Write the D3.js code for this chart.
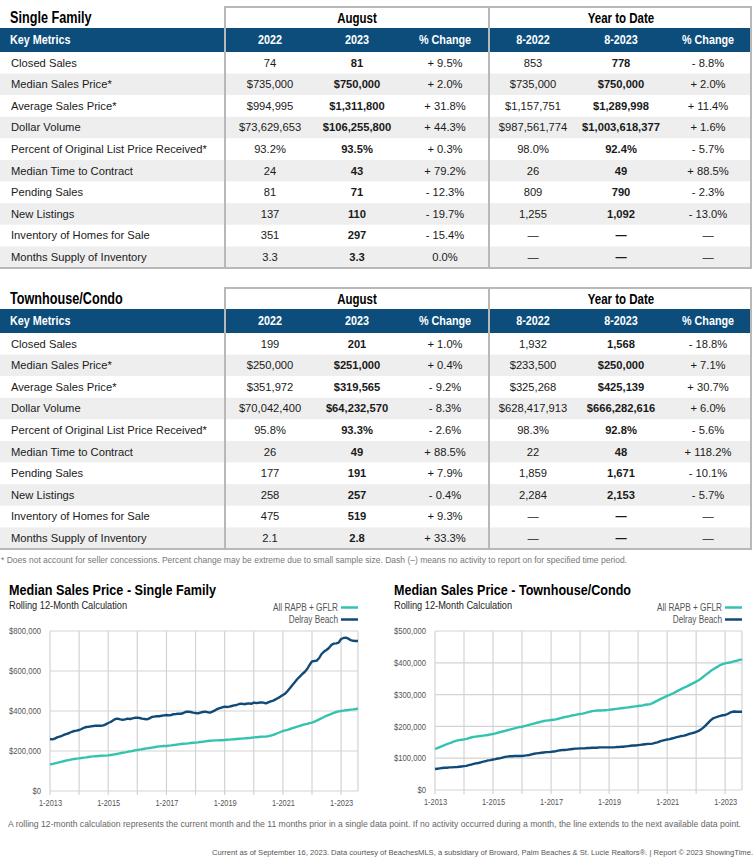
<!DOCTYPE html>
<html>
<head>
<meta charset="utf-8">
<script src="https://cdn.jsdelivr.net/npm/d3@7"></script>
<style>
  body { margin: 0; background: #fff; }
  svg text { font-family: Arial, "Liberation Sans", sans-serif; }
</style>
</head>
<body>
<svg id="page" width="756" height="863"></svg>
<script>
// 表格数据
const metrics = ["Closed Sales", "Median Sales Price*", "Average Sales Price*", "Dollar Volume",
  "Percent of Original List Price Received*", "Median Time to Contract", "Pending Sales",
  "New Listings", "Inventory of Homes for Sale", "Months Supply of Inventory"];
const colHeads = ["2022", "2023", "% Change", "8-2022", "8-2023", "% Change"];
const groupHeads = ["August", "Year to Date"];

const sfAug22 = ["74", "$735,000", "$994,995", "$73,629,653", "93.2%", "24", "81", "137", "351", "3.3"];
const sfAug23 = ["81", "$750,000", "$1,311,800", "$106,255,800", "93.5%", "43", "71", "110", "297", "3.3"];
const sfAugPct = ["+ 9.5%", "+ 2.0%", "+ 31.8%", "+ 44.3%", "+ 0.3%", "+ 79.2%", "- 12.3%", "- 19.7%", "- 15.4%", "0.0%"];
const sfYtd22 = ["853", "$735,000", "$1,157,751", "$987,561,774", "98.0%", "26", "809", "1,255", "—", "—"];
const sfYtd23 = ["778", "$750,000", "$1,289,998", "$1,003,618,377", "92.4%", "49", "790", "1,092", "—", "—"];
const sfYtdPct = ["- 8.8%", "+ 2.0%", "+ 11.4%", "+ 1.6%", "- 5.7%", "+ 88.5%", "- 2.3%", "- 13.0%", "—", "—"];

const thAug22 = ["199", "$250,000", "$351,972", "$70,042,400", "95.8%", "26", "177", "258", "475", "2.1"];
const thAug23 = ["201", "$251,000", "$319,565", "$64,232,570", "93.3%", "49", "191", "257", "519", "2.8"];
const thAugPct = ["+ 1.0%", "+ 0.4%", "- 9.2%", "- 8.3%", "- 2.6%", "+ 88.5%", "+ 7.9%", "- 0.4%", "+ 9.3%", "+ 33.3%"];
const thYtd22 = ["1,932", "$233,500", "$325,268", "$628,417,913", "98.3%", "22", "1,859", "2,284", "—", "—"];
const thYtd23 = ["1,568", "$250,000", "$425,139", "$666,282,616", "92.8%", "48", "1,671", "2,153", "—", "—"];
const thYtdPct = ["- 18.8%", "+ 7.1%", "+ 30.7%", "+ 6.0%", "- 5.6%", "+ 118.2%", "- 10.1%", "- 5.7%", "—", "—"];

// 折线数据: 2013-01 .. 2023-08, 单位千美元
const startMonth = new Date(2013, 0, 1);
const sfDelray = [
  260, 258, 262, 268, 272, 276, 282, 286, 290, 296, 300, 302,
  305, 310, 316, 320, 321, 323, 325, 327, 326, 326, 328, 333,
  340, 345, 352, 360, 362, 358, 356, 358, 362, 360, 363, 366,
  367, 365, 362, 360, 358, 363, 370, 372, 374, 374, 376, 378,
  380, 378, 380, 384, 385, 387, 386, 390, 396, 397, 395, 392,
  390, 388, 392, 395, 397, 394, 392, 397, 403, 410, 414, 418,
  422, 420, 422, 425, 428, 430, 435, 437, 434, 436, 438, 436,
  442, 440, 441, 443, 442, 438, 443, 448, 452, 458, 465, 472,
  480, 488, 500, 515, 530, 545, 560, 572, 585, 595, 610, 630,
  648, 650, 652, 665, 685, 697, 705, 715, 730, 737, 738, 742,
  760, 765, 767, 762, 754, 751, 750, 750];
const sfAll = [
  133, 135, 138, 141, 144, 147, 150, 153, 155, 158, 160, 162,
  163, 165, 167, 168, 170, 172, 173, 174, 175, 176, 177, 177,
  178, 180, 182, 184, 186, 189, 191, 193, 196, 198, 200, 203,
  205, 207, 209, 211, 213, 215, 217, 219, 221, 223, 224, 225,
  225, 227, 228, 230, 231, 233, 235, 236, 237, 238, 240, 241,
  242, 243, 245, 246, 248, 250, 251, 252, 253, 253, 254, 254,
  255, 256, 257, 258, 259, 260, 261, 262, 263, 264, 265, 266,
  268, 269, 270, 271, 272, 272, 274, 277, 281, 285, 290, 295,
  300, 303, 306, 310, 314, 318, 322, 326, 330, 333, 336, 339,
  342, 347, 352, 358, 364, 370, 376, 381, 386, 391, 395, 398,
  400, 402, 404, 405, 407, 408, 410, 412];
const thAll = [
  129, 132, 135, 138, 141, 144, 147, 150, 153, 155, 157, 158,
  159, 161, 163, 165, 167, 168, 169, 170, 171, 172, 173, 175,
  176, 178, 180, 182, 184, 186, 188, 190, 192, 194, 196, 198,
  199, 201, 203, 205, 207, 209, 211, 213, 215, 217, 218, 219,
  220, 221, 222, 224, 226, 228, 230, 231, 233, 235, 236, 238,
  239, 240, 242, 244, 246, 248, 249, 250, 250, 250, 251, 251,
  252, 253, 254, 255, 256, 257, 258, 259, 260, 261, 262, 263,
  264, 265, 266, 268, 269, 270, 273, 277, 281, 285, 289, 292,
  296, 299, 302, 306, 310, 314, 318, 322, 325, 329, 333, 337,
  341, 345, 350, 356, 362, 368, 374, 379, 384, 388, 393, 396,
  398, 400, 401, 403, 405, 407, 409, 411];
const thDelray = [
  66, 67, 68, 69, 70, 70, 71, 71, 72, 72, 73, 74,
  75, 76, 78, 80, 82, 84, 85, 87, 89, 91, 93, 94,
  96, 97, 99, 100, 102, 104, 105, 106, 106, 107, 107, 107,
  107, 108, 109, 110, 112, 114, 115, 116, 117, 118, 119, 119,
  120, 121, 122, 124, 125, 126, 126, 127, 128, 129, 130, 130,
  131, 131, 131, 132, 132, 133, 133, 133, 134, 134, 134, 134,
  134, 134, 134, 135, 135, 136, 136, 137, 138, 139, 140, 140,
  141, 142, 143, 144, 145, 145, 146, 148, 150, 153, 155, 157,
  159, 160, 162, 164, 166, 168, 170, 171, 173, 176, 178, 180,
  183, 186, 190, 196, 203, 211, 219, 225, 228, 231, 233, 235,
  236, 239, 243, 246, 247, 246, 246, 246];
const sfTicks = [0, 200000, 400000, 600000, 800000];
const thTicks = [0, 100000, 200000, 300000, 400000, 500000];
const legendNames = ["All RAPB + GFLR", "Delray Beach"];

// 颜色
const blue = "#0c4d7b";
const teal = "#35c3b1";
const navy = "#0f4a78";
const borderGray = "#b8b8b8";

const svg = d3.select("#page");

// 没有窄体字体, 用 textLength 压扁文字
function condense(sel, k) {
  sel.each(function () {
    const w = this.getComputedTextLength();
    d3.select(this).attr("textLength", w * k).attr("lengthAdjust", "spacingAndGlyphs");
  });
}

function drawTable(top, title, cols) {
  const g = svg.append("g");
  const rowY = d3.scaleBand().domain(metrics).range([top + 45, top + 261]);
  const centers = [270, 357, 445, 533, 621, 708];

  g.selectAll("rect.row")
    .data(metrics)
    .join("rect")
    .attr("class", "row")
    .attr("x", 0)
    .attr("width", 752)
    .attr("y", (d) => rowY(d))
    .attr("height", rowY.bandwidth())
    .attr("fill", (d, i) => (i % 2 ? "#eeeeee" : "#ffffff"));

  g.append("rect")
    .attr("x", 0)
    .attr("y", top + 21)
    .attr("width", 752)
    .attr("height", 24)
    .attr("fill", blue);

  g.append("text")
    .attr("x", 10)
    .attr("y", top + 16)
    .attr("font-size", 16)
    .attr("font-weight", "bold")
    .text(title)
    .call(condense, 0.79);

  g.selectAll("text.grp")
    .data(groupHeads)
    .join("text")
    .attr("class", "grp")
    .attr("x", (d, i) => (i ? 621 : 357))
    .attr("y", top + 16)
    .attr("text-anchor", "middle")
    .attr("font-size", 14)
    .attr("font-weight", "bold")
    .text((d) => d)
    .call(condense, 0.82);

  g.append("text")
    .attr("x", 10)
    .attr("y", top + 37)
    .attr("font-size", 13)
    .attr("font-weight", "bold")
    .attr("fill", "#fff")
    .text("Key Metrics")
    .call(condense, 0.83);

  g.selectAll("text.ch")
    .data(colHeads)
    .join("text")
    .attr("class", "ch")
    .attr("x", (d, i) => centers[i])
    .attr("y", top + 37)
    .attr("text-anchor", "middle")
    .attr("font-size", 13)
    .attr("font-weight", "bold")
    .attr("fill", "#fff")
    .text((d) => d)
    .call(condense, 0.83);

  g.selectAll("text.metric")
    .data(metrics)
    .join("text")
    .attr("class", "metric")
    .attr("x", 11)
    .attr("y", (d) => rowY(d) + 14.5)
    .attr("font-size", 11.2)
    .attr("fill", "#1a1a1a")
    .text((d) => d);

  cols.forEach((col, ci) => {
    g.selectAll("text.c" + ci)
      .data(col)
      .join("text")
      .attr("class", "c" + ci)
      .attr("x", centers[ci])
      .attr("y", (d, i) => rowY(metrics[i]) + 14.5)
      .attr("text-anchor", "middle")
      .attr("font-size", 11.2)
      .attr("font-weight", ci === 1 || ci === 4 ? "bold" : "normal")
      .attr("fill", "#1a1a1a")
      .text((d) => d);
  });

  const bottom = top + 261;
  g.append("path")
    .attr("d", `M225,${bottom}V${top}H751V${bottom}M489,${top}V${bottom}`)
    .attr("fill", "none")
    .attr("stroke", borderGray)
    .attr("stroke-width", 2);
  g.append("line")
    .attr("x1", 0)
    .attr("x2", 752)
    .attr("y1", bottom)
    .attr("y2", bottom)
    .attr("stroke", borderGray)
    .attr("stroke-width", 2);
}

drawTable(7, "Single Family", [sfAug22, sfAug23, sfAugPct, sfYtd22, sfYtd23, sfYtdPct]);
drawTable(288, "Townhouse/Condo", [thAug22, thAug23, thAugPct, thYtd22, thYtd23, thYtdPct]);

svg.append("text")
  .attr("x", 1)
  .attr("y", 563)
  .attr("font-size", 8.5)
  .attr("fill", "#777")
  .attr("textLength", 626)
  .attr("lengthAdjust", "spacingAndGlyphs")
  .text("* Does not account for seller concessions. Percent change may be extreme due to small sample size. Dash (–) means no activity to report on for specified time period.");

function drawChart(cfg) {
  const g = svg.append("g");
  const months = cfg.all.map((d, i) => d3.timeMonth.offset(startMonth, i));
  const x = d3.scaleTime()
    .domain([startMonth, months[months.length - 1]])
    .range([cfg.x0, cfg.x1]);
  const y = d3.scaleLinear()
    .domain([0, cfg.max])
    .range([cfg.yBottom, 631]);

  // 网格
  const years = d3.timeYear.range(startMonth, new Date(2023, 1, 1));
  g.append("g")
    .selectAll("line")
    .data(years)
    .join("line")
    .attr("x1", (d) => x(d))
    .attr("x2", (d) => x(d))
    .attr("y1", 631)
    .attr("y2", cfg.yBottom + 4)
    .attr("stroke", "#d3d3d3")
    .attr("stroke-width", 1.2);
  g.append("line")
    .attr("x1", cfg.x1).attr("x2", cfg.x1)
    .attr("y1", 631).attr("y2", cfg.yBottom)
    .attr("stroke", "#d3d3d3")
    .attr("stroke-width", 1.2);
  g.append("g")
    .selectAll("line")
    .data(cfg.ticks)
    .join("line")
    .attr("x1", cfg.x0)
    .attr("x2", cfg.x1)
    .attr("y1", (d) => y(d))
    .attr("y2", (d) => y(d))
    .attr("stroke", "#d3d3d3")
    .attr("stroke-width", 1.2);

  // 坐标轴文字
  const yAxis = d3.axisLeft(y)
    .tickValues(cfg.ticks)
    .tickFormat((d) => "$" + d3.format(",")(d))
    .tickSize(0)
    .tickPadding(9);
  const ga = g.append("g")
    .attr("transform", `translate(${cfg.x0},0)`)
    .call(yAxis);
  ga.select(".domain").remove();
  ga.selectAll("text")
    .attr("font-family", null)
    .attr("font-size", 8.5)
    .attr("fill", "#555")
    .call(condense, 0.9);

  const xAxis = d3.axisBottom(x)
    .tickValues(years.filter((d, i) => i % 2 === 0))
    .tickFormat((d) => "1-" + d.getFullYear())
    .tickSize(0)
    .tickPadding(9);
  const gx = g.append("g")
    .attr("transform", `translate(0,${cfg.yBottom})`)
    .call(xAxis);
  gx.select(".domain").remove();
  gx.selectAll("text")
    .attr("font-size", 8.8)
    .attr("fill", "#555")
    .call(condense, 0.84);

  // 折线
  const line = d3.line()
    .x((d, i) => x(months[i]))
    .y((d) => y(d * 1000));
  [[cfg.all, teal], [cfg.delray, navy]].forEach(([series, color]) => {
    g.append("path")
      .datum(series)
      .attr("d", line)
      .attr("fill", "none")
      .attr("stroke", color)
      .attr("stroke-width", 2.4)
      .attr("stroke-linejoin", "round");
  });

  // 标题
  g.append("text")
    .attr("x", cfg.tx)
    .attr("y", 595)
    .attr("font-size", 15)
    .attr("font-weight", "bold")
    .attr("textLength", cfg.titleW)
    .attr("lengthAdjust", "spacingAndGlyphs")
    .text(cfg.title);
  g.append("text")
    .attr("x", cfg.tx)
    .attr("y", 608.5)
    .attr("font-size", 10.5)
    .attr("fill", "#222")
    .text("Rolling 12-Month Calculation")
    .call(condense, 0.88);

  // 图例
  legendNames.forEach((name, i) => {
    const ly = 611 + i * 12;
    g.append("text")
      .attr("x", cfg.x1 - 20)
      .attr("y", ly)
      .attr("text-anchor", "end")
      .attr("font-size", 10)
      .attr("fill", "#555")
      .text(name)
      .call(condense, 0.82);
    g.append("line")
      .attr("x1", cfg.x1 - 17)
      .attr("x2", cfg.x1)
      .attr("y1", ly - 3.5)
      .attr("y2", ly - 3.5)
      .attr("stroke", i ? navy : teal)
      .attr("stroke-width", 2.5);
  });
}

drawChart({
  x0: 50, x1: 358, yBottom: 791, max: 800000, ticks: sfTicks,
  all: sfAll, delray: sfDelray, tx: 9, titleW: 207,
  title: "Median Sales Price - Single Family"
});
drawChart({
  x0: 435, x1: 742, yBottom: 790, max: 500000, ticks: thTicks,
  all: thAll, delray: thDelray, tx: 394, titleW: 237,
  title: "Median Sales Price - Townhouse/Condo"
});

svg.append("text")
  .attr("x", 8)
  .attr("y", 827)
  .attr("font-size", 8.5)
  .attr("fill", "#666")
  .attr("textLength", 733)
  .attr("lengthAdjust", "spacingAndGlyphs")
  .text("A rolling 12-month calculation represents the current month and the 11 months prior in a single data point. If no activity occurred during a month, the line extends to the next available data point.");

svg.append("text")
  .attr("x", 753)
  .attr("y", 854.5)
  .attr("text-anchor", "end")
  .attr("font-size", 7.6)
  .attr("fill", "#555")
  .text("Current as of September 16, 2023. Data courtesy of BeachesMLS, a subsidiary of Broward, Palm Beaches & St. Lucie Realtors®. | Report © 2023 ShowingTime.");
</script>
</body>
</html>
